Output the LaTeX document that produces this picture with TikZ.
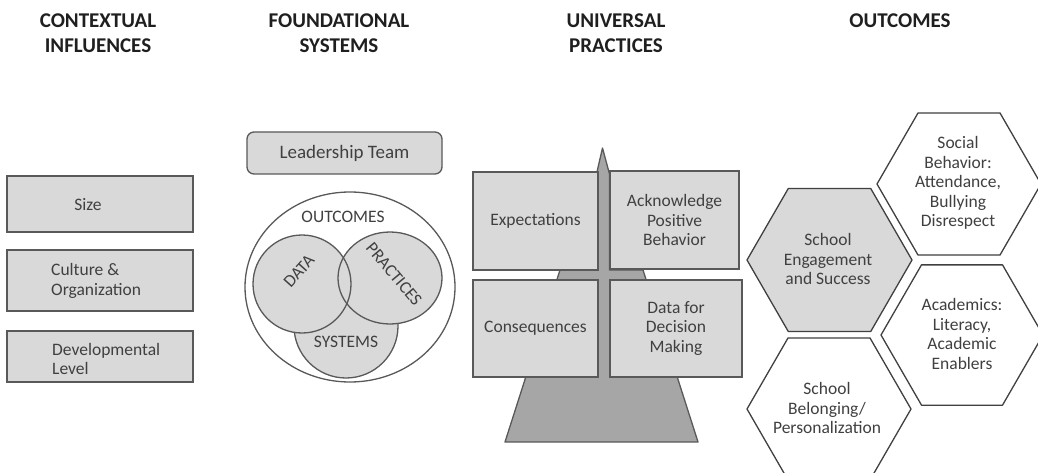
\documentclass[tikz,border=0pt]{standalone}
\usepackage{fontspec}
\setmainfont{Carlito}
\usetikzlibrary{calc}
\definecolor{boxfill}{HTML}{D9D9D9}
\definecolor{treefill}{HTML}{A6A6A6}
\definecolor{edgecol}{HTML}{595959}
\definecolor{txtcol}{HTML}{404040}
\newcommand{\myhex}[3]{\draw[#3, shift={#1}] (0:#2) -- (60:#2) -- (120:#2) -- (180:#2) -- (240:#2) -- (300:#2) -- cycle;}
\begin{document}
\begin{tikzpicture}[x=1pt,y=-1pt,
  headtxt/.style={font=\fontsize{21}{25}\selectfont\bfseries, text=black!88, align=center, inner sep=0},
  bodytxt/.style={font=\fontsize{17.5}{19.5}\selectfont, text=txtcol, align=center, inner sep=0},
  graybox/.style={draw=edgecol, fill=boxfill, line width=1.3pt, inner sep=0, font=\fontsize{17.5}{19.5}\selectfont, text=txtcol, align=center},
  circfill/.style={fill=boxfill},
  circedge/.style={draw=edgecol, line width=1.3pt},
  treestyle/.style={draw=edgecol, fill=treefill, line width=1.3pt, line join=round},
  hexwhite/.style={draw=txtcol, fill=white, line width=1.3pt, line join=round},
  hexgray/.style={draw=txtcol, fill=boxfill, line width=1.3pt, line join=round}]
\useasboundingbox (0,0) rectangle (1038,473);
\begin{scope}
\clip (0,0) rectangle (1038,473);

% headings
\node[headtxt] (h1) at (98,33) {CONTEXTUAL\\INFLUENCES};
\node[headtxt] (h2) at (339,33) {FOUNDATIONAL\\SYSTEMS};
\node[headtxt] (h3) at (616,33) {UNIVERSAL\\PRACTICES};
\node[headtxt] (h4) at (900,21) {OUTCOMES};

% contextual influences
\node[graybox, minimum width=186, minimum height=56] (sizebox) at (100,204) {};
\node[bodytxt] (sizet) at (88,205) {Size};
\node[graybox, minimum width=186, minimum height=61] (cultbox) at (100,280.5) {};
\node[bodytxt, anchor=west, align=left] (cultt) at (51,281) {Culture \&\\Organization};
\node[graybox, minimum width=186, minimum height=51] (devbox) at (100,356.5) {};
\node[bodytxt, anchor=west, align=left] (devt) at (52,359) {Developmental\\Level};

% foundational systems
\node[graybox, rounded corners=7, minimum width=195, minimum height=42, font=\fontsize{19}{22}\selectfont] (lead) at (344.5,153) {Leadership Team};
\draw[circedge, fill=white] (350,287) ellipse [x radius=105, y radius=95];
\node[bodytxt] (outc) at (343,217) {OUTCOMES};
\fill[circfill] (346,326) circle [radius=52];
\draw[circedge] (346,326) circle [radius=52];
\fill[circfill] (302,284) circle [radius=49];
\fill[circfill] (390,278) ellipse [x radius=52, y radius=46];
\draw[circedge] (302,284) circle [radius=49];
\draw[circedge] (390,278) ellipse [x radius=52, y radius=46];
\node[bodytxt] (syst) at (346,342) {SYSTEMS};
\node[bodytxt, rotate=48] (datat) at (299,271) {DATA};
\node[bodytxt, rotate=-50] (pract) at (394,274) {PRACTICES};

% universal practices tree
\draw[treestyle] (602.5,148) -- (609.5,174) -- (609.5,270) -- (643,270) -- (698,442)
  -- (505,442) -- (560,270) -- (596.5,270) -- (596.5,174) -- cycle;
\node[graybox, minimum width=125, minimum height=98] (expect) at (535.5,221) {Expectations};
\node[graybox, minimum width=129, minimum height=98] (ackn) at (674.5,220) {Acknowledge\\Positive\\Behavior};
\node[graybox, minimum width=125, minimum height=97] (conseq) at (535.5,328.5) {Consequences};
\node[graybox, minimum width=132, minimum height=97] (datadm) at (676,328.5) {Data for\\Decision\\Making};

% outcomes hexagons
\myhex{(959,184)}{82}{hexwhite}
\myhex{(829.5,260)}{82.5}{hexgray}
\myhex{(962,335)}{81}{hexwhite}
\myhex{(829,409)}{82}{hexwhite}
\node[bodytxt] (social) at (958,183) {Social\\Behavior:\\Attendance,\\Bullying\\Disrespect};
\node[bodytxt] (engage) at (828,259) {School\\Engagement\\and Success};
\node[bodytxt] (acad) at (962,334) {Academics:\\Literacy,\\Academic\\Enablers};
\node[bodytxt] (belong) at (827,408) {School\\Belonging/\\Personalization};
\end{scope}
\end{tikzpicture}
\end{document}
